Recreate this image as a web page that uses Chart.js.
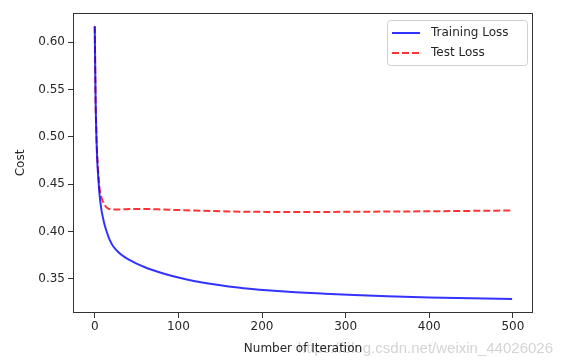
<!DOCTYPE html>
<html>
<head>
<meta charset="utf-8">
<script src="https://cdn.jsdelivr.net/npm/chart.js@4.4.1/dist/chart.umd.min.js"></script>
<style>
  body { margin: 0; background: #fff; }
  canvas { display: block; }
</style>
</head>
<body>
<canvas id="loss-chart" width="563" height="363"></canvas>
<script>
// Data
var iterations = [0, 1, 2, 3, 4, 5, 6, 8, 10, 12, 15, 18, 22, 28, 35, 42, 50, 60, 70, 82, 100, 120, 140, 160, 185, 210, 240, 275, 310, 350, 400, 450, 499];
var trainLoss  = [0.617, 0.54, 0.50, 0.475, 0.46, 0.447, 0.437, 0.423, 0.414, 0.4065, 0.398, 0.391, 0.3845, 0.3785, 0.3735, 0.3698, 0.3662, 0.3624, 0.3592, 0.3558, 0.3515, 0.3476, 0.3446, 0.3421, 0.3397, 0.3378, 0.336, 0.3344, 0.333, 0.3317, 0.3305, 0.3296, 0.3289];
var testLoss   = [0.617, 0.54, 0.502, 0.48, 0.465, 0.453, 0.444, 0.436, 0.4315, 0.428, 0.425, 0.4238, 0.4233, 0.4234, 0.4236, 0.4238, 0.4239, 0.424, 0.4237, 0.4233, 0.4228, 0.4222, 0.4217, 0.4213, 0.421, 0.4208, 0.4207, 0.4208, 0.421, 0.4212, 0.4215, 0.4219, 0.4223];
var xTicks = [0, 100, 200, 300, 400, 500];
var yTicks = [0.35, 0.40, 0.45, 0.50, 0.55, 0.60];
var seriesNames = ['Training Loss', 'Test Loss'];

var FONT = 'DejaVu Sans';
var TEXT = '#262626';

function toPoints(ys) {
    return iterations.map(function (x, i) { return {x: x, y: ys[i]}; });
}

// frame, legend and watermark drawn round the plot
var decorPlugin = {
    id: 'decor',
    beforeDraw: function (chart) {
        var c = chart.ctx;
        c.save();
        c.font = '15px "Liberation Sans"';
        c.fillStyle = '#d4d4d4';
        c.textBaseline = 'alphabetic';
        c.textAlign = 'right';
        c.fillText('https://blog.csdn.net/weixin_44026026', 553, 353);
        c.restore();
    },
    afterDraw: function (chart) {
        var c = chart.ctx, a = chart.chartArea;
        c.save();
        c.strokeStyle = '#333';
        c.lineWidth = 1;
        c.strokeRect(Math.round(a.left) + 0.5, Math.round(a.top) + 0.5,
                     Math.round(a.right - a.left) - 1, Math.round(a.bottom - a.top) - 1);

        // legend
        var bx = a.right - 146, by = a.top + 7, bw = 140, bh = 45;
        c.fillStyle = 'rgba(255,255,255,0.9)';
        c.strokeStyle = '#d0d0d0';
        c.beginPath();
        c.roundRect(bx + 0.5, by + 0.5, bw, bh, 3);
        c.fill();
        c.stroke();
        chart.data.datasets.forEach(function (ds, i) {
            var y = by + 13 + i * 20;
            c.strokeStyle = ds.borderColor;
            c.lineWidth = 2;
            c.setLineDash(ds.borderDash || []);
            c.beginPath();
            c.moveTo(bx + 5, y);
            c.lineTo(bx + 33, y);
            c.stroke();
            c.setLineDash([]);
            c.fillStyle = TEXT;
            c.font = '12px "' + FONT + '"';
            c.textBaseline = 'middle';
            c.fillText(ds.label, bx + 44, y);
        });
        c.restore();
    }
};

var ctx = document.getElementById('loss-chart');

var chartData = {
    datasets: [{
        label: seriesNames[0],
        data: toPoints(trainLoss),
        borderColor: 'rgba(0,0,255,0.8)',
        borderWidth: 2,
        pointRadius: 0,
        cubicInterpolationMode: 'monotone',
        fill: false
    }, {
        label: seriesNames[1],
        data: toPoints(testLoss),
        borderColor: 'rgba(255,0,0,0.8)',
        borderWidth: 2,
        borderDash: [7, 3],
        pointRadius: 0,
        cubicInterpolationMode: 'monotone',
        fill: false
    }]
};

var chartOptions = {
    responsive: false,
    animation: false,
    layout: { padding: { top: 13, right: 30, left: 0, bottom: 0 } },
    plugins: {
        legend: { display: false },
        tooltip: { enabled: false }
    },
    scales: {
        x: {
            type: 'linear',
            min: -26,
            max: 524,
            afterBuildTicks: function (s) { s.ticks = xTicks.map(function (v) { return {value: v}; }); },
            afterFit: function (s) { s.height = 50; },
            grid: { drawOnChartArea: false, drawTicks: true, tickLength: 5, color: '#333' },
            border: { display: false },
            ticks: { color: TEXT, font: { family: FONT, size: 12 }, padding: 2, maxRotation: 0 },
            title: { display: true, text: 'Number of Iteration', color: TEXT, font: { family: FONT, size: 12 }, padding: { top: 0, bottom: 7 } }
        },
        y: {
            min: 0.314,
            max: 0.631,
            afterBuildTicks: function (s) { s.ticks = yTicks.map(function (v) { return {value: v}; }); },
            afterFit: function (s) { s.width = 73; },
            grid: { drawOnChartArea: false, drawTicks: true, tickLength: 5, color: '#333' },
            border: { display: false },
            ticks: {
                color: TEXT, font: { family: FONT, size: 12 }, padding: 3,
                callback: function (v) { return Number(v).toFixed(2); }
            },
            title: { display: true, text: 'Cost', color: TEXT, font: { family: FONT, size: 12 }, padding: { top: 14, bottom: 0 } }
        }
    }
};

var config = {
    type: 'line',
    data: chartData,
    options: chartOptions,
    plugins: [decorPlugin]
};

var lossChart = new Chart(ctx, config);
</script>
</body>
</html>
